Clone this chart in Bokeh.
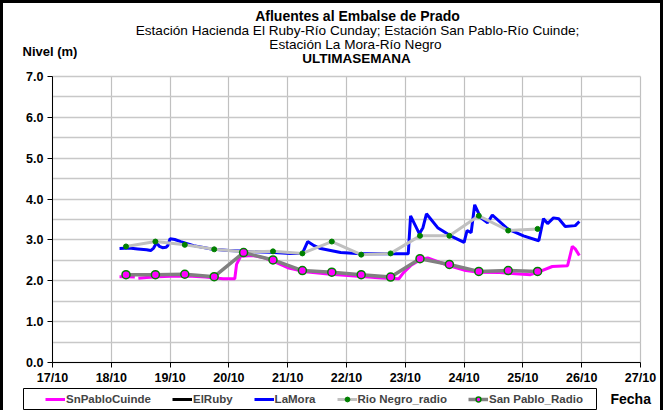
from bokeh.plotting import figure
from bokeh.models import Range1d, FixedTicker, Label, Legend, LegendItem, BoxAnnotation
from bokeh.embed import file_html
from bokeh.resources import INLINE

FONT = "Liberation Sans"

# ---- axis ticks / labels ----
day_ticks = [17, 18, 19, 20, 21, 22, 23, 24, 25, 26, 27]
day_labels = ["17/10", "18/10", "19/10", "20/10", "21/10", "22/10",
              "23/10", "24/10", "25/10", "26/10", "27/10"]
level_ticks = [0, 1, 2, 3, 4, 5, 6, 7]
level_labels = ["0.0", "1.0", "2.0", "3.0", "4.0", "5.0", "6.0", "7.0"]
grid_levels = [0, 0.5, 1, 1.5, 2, 2.5, 3, 3.5, 4, 4.5, 5, 5.5, 6, 6.5, 7]

# ---- series (x = day of October) ----
lamora_x = [18.14, 18.30, 18.45, 18.60, 18.67, 18.72, 18.77, 18.82, 18.87, 18.93,
            18.96, 19.00, 19.08, 19.18, 19.40, 19.70, 20.00, 20.30, 20.70, 21.05,
            21.25, 21.34, 21.45, 21.56, 21.73, 21.90, 22.24, 22.60, 23.05, 23.09,
            23.24, 23.30, 23.36, 23.55, 23.77, 24.00, 24.05, 24.12, 24.18, 24.28,
            24.40, 24.48, 24.74, 25.01, 25.27, 25.35, 25.42, 25.52, 25.61, 25.72,
            25.89, 25.96]
lamora_y = [2.79, 2.80, 2.78, 2.76, 2.74, 2.80, 2.93, 2.84, 2.81, 2.82,
            2.86, 3.03, 3.01, 2.96, 2.86, 2.78, 2.74, 2.72, 2.70, 2.67,
            2.67, 2.96, 2.86, 2.79, 2.74, 2.69, 2.66, 2.66, 2.66, 3.59,
            3.15, 3.30, 3.64, 3.30, 3.10, 2.94, 3.23, 3.18, 3.86, 3.55,
            3.42, 3.61, 3.27, 3.10, 2.98, 3.52, 3.40, 3.54, 3.52, 3.33,
            3.35, 3.45]

snpablo_x = [18.14, 18.25, 18.40, 18.41, 18.46, 18.60, 18.80, 19.00, 19.30, 19.60,
             19.90, 20.10, 20.13, 20.20, 20.40, 20.60, 20.80, 21.00, 21.30, 21.73,
             22.20, 22.60, 22.89, 22.97, 23.10, 23.26, 23.38, 23.72, 24.00, 24.25,
             24.60, 25.13, 25.27, 25.50, 25.76, 25.84, 25.89, 25.96]
snpablo_y = [2.10, 2.10, 2.09, float("nan"), 2.06, 2.08, 2.10, 2.11, 2.12, 2.09,
             2.05, 2.05, 2.40, 2.60, 2.62, 2.56, 2.45, 2.32, 2.22, 2.16,
             2.11, 2.07, 2.05, 2.20, 2.38, 2.52, 2.56, 2.38, 2.26, 2.21,
             2.20, 2.15, 2.22, 2.35, 2.37, 2.84, 2.78, 2.62]

# ElRuby: no readings in this week (appears only in the legend)
elruby_x = [float("nan")]
elruby_y = [float("nan")]

radio_x = [18.25, 18.75, 19.25, 19.75, 20.25, 20.75, 21.25, 21.75,
           22.25, 22.75, 23.25, 23.75, 24.25, 24.75, 25.25]
rionegro_radio = [2.84, 2.96, 2.88, 2.77, 2.71, 2.72, 2.67, 2.96,
                  2.64, 2.67, 3.10, 3.10, 3.59, 3.23, 3.27]
sanpablo_radio = [2.15, 2.15, 2.16, 2.10, 2.69, 2.51, 2.25, 2.21,
                  2.15, 2.09, 2.54, 2.40, 2.23, 2.25, 2.23]

# canvas 663x410; frame fills canvas; x: 58.8 px/day (17 at px 49), y: 40.857 px/unit (0 at px 359)
W, H = 663, 410
p = figure(width=W, height=H, title=None,
           x_range=Range1d(16.1667, 27.4422), y_range=Range1d(-1.2483, 8.7867),
           output_backend="svg", toolbar_location=None,
           min_border_left=0, min_border_right=0, min_border_top=0, min_border_bottom=0)
p.styles = {"border-left": "3px solid black", "border-top": "3px solid black",
            "border-right": "3px solid black"}
p.background_fill_color = "white"
p.border_fill_color = "white"
p.outline_line_color = None

# axes drawn inside the frame at fixed locations
p.xaxis.fixed_location = 0
p.yaxis.fixed_location = 17
p.xaxis.bounds = (17, 27)
p.yaxis.bounds = (0, 7)
p.xaxis.ticker = FixedTicker(ticks=day_ticks)
p.xaxis.major_label_overrides = {t: l for t, l in zip(day_ticks, day_labels)}
p.yaxis.ticker = FixedTicker(ticks=level_ticks)
p.yaxis.major_label_overrides = {t: l for t, l in zip(level_ticks, level_labels)}
for ax in (p.xaxis[0], p.yaxis[0]):
    ax.axis_line_color = "black"
    ax.major_tick_line_color = "black"
    ax.major_tick_in = 0
    ax.major_tick_out = 5
    ax.minor_tick_line_color = None
    ax.major_label_text_font = FONT
    ax.major_label_text_font_style = "bold"
    ax.major_label_text_font_size = "12.5px"
    ax.major_label_text_color = "black"
p.xaxis.major_label_standoff = 4
p.yaxis.major_label_standoff = 4

p.xgrid.ticker = FixedTicker(ticks=day_ticks)
p.ygrid.ticker = FixedTicker(ticks=grid_levels)
p.xgrid.cross_bounds = (0, 7)
p.ygrid.cross_bounds = (17, 27)
p.xgrid.grid_line_color = "#c0c0c0"
p.ygrid.grid_line_color = "#c8c8c8"
p.xgrid.grid_line_width = 1.2
p.ygrid.grid_line_width = 1.5

# series
r_sp = p.line(snpablo_x, snpablo_y, line_color="#FF00FF", line_width=3)
r_er = p.line(elruby_x, elruby_y, line_color="black", line_width=3)
r_lm = p.line(lamora_x, lamora_y, line_color="#0000FF", line_width=3)
r_rn_l = p.line(radio_x, rionegro_radio, line_color="#C0C0C0", line_width=3)
r_rn_m = p.scatter(radio_x, rionegro_radio, size=5, fill_color="#008000", line_color="#008000")
r_spr_l = p.line(radio_x, sanpablo_radio, line_color="#808080", line_width=3.5)
r_spr_m = p.scatter(radio_x, sanpablo_radio, size=8, fill_color="#FF00FF",
                    line_color="#008000", line_width=1.5)

# legend box (screen units relative to the frame = canvas, y upward)
p.add_layout(BoxAnnotation(left=20, right=593, bottom=4, top=25,
                           left_units="screen", right_units="screen",
                           bottom_units="screen", top_units="screen",
                           fill_color="white", fill_alpha=1.0,
                           line_color="black", line_width=1, line_alpha=1.0))

legend = Legend(items=[
    LegendItem(label="SnPabloCuinde", renderers=[r_sp]),
    LegendItem(label="ElRuby", renderers=[r_er]),
    LegendItem(label="LaMora", renderers=[r_lm]),
    LegendItem(label="Rio Negro_radio", renderers=[r_rn_l, r_rn_m]),
    LegendItem(label="San Pablo_Radio", renderers=[r_spr_l, r_spr_m]),
], location=(42, 8), orientation="horizontal")
legend.border_line_color = None
legend.background_fill_alpha = 0
legend.padding = 0
legend.margin = 0
legend.spacing = 21
legend.glyph_width = 20
legend.glyph_height = 12
legend.label_height = 12
legend.label_standoff = 1
legend.label_text_font = FONT
legend.label_text_font_style = "bold"
legend.label_text_font_size = "11.5px"
legend.label_text_baseline = "middle"
p.add_layout(legend, "center")

def add_text(txt, x, y, size="13px", style="normal", align="center"):
    p.add_layout(Label(x=x, y=y, x_units="screen", y_units="screen", text=txt,
                       text_font=FONT, text_font_size=size, text_font_style=style,
                       text_align=align, text_baseline="middle", text_color="black"))

# screen x = page_x - 3, screen y = 413 - page_y
add_text("Afluentes al Embalse de Prado", 354, 398, size="14px", style="bold")
add_text("Estación Hacienda El Ruby-Río Cunday; Estación San Pablo-Río Cuinde;", 354, 383, size="13.6px")
add_text("Estación La Mora-Río Negro", 352, 369, size="13.6px")
add_text("ULTIMASEMANA", 353, 355, size="13.5px", style="bold")
add_text("Nivel (m)", 19, 362, size="13px", style="bold", align="left")
add_text("Fecha", 607, 15, size="14px", style="bold", align="left")

open("out.html", "w").write(file_html(p, INLINE))
